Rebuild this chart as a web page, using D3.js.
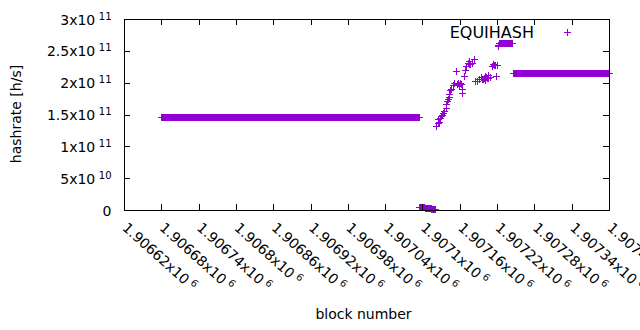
<!DOCTYPE html>
<html>

<head>
	<meta charset="utf-8">
	<title>EQUIHASH hashrate</title>
	<script type="text/javascript" src="https://d3js.org/d3.v7.min.js"></script>
	<style>
		body { margin: 0; background: #fff; }
		text { font-family: "DejaVu Sans", sans-serif; fill: #000; }
	</style>
</head>

<body>
	<div id="chart"></div>

	<script type="text/javascript">
		// tick values and labels (mantissa x10^exponent, gnuplot style)
		var xTickValues = [1906620, 1906680, 1906740, 1906800, 1906860, 1906920, 1906980,
			1907040, 1907100, 1907160, 1907220, 1907280, 1907340, 1907400];
		var xTickLabels = ["1.90662x10", "1.90668x10", "1.90674x10", "1.9068x10", "1.90686x10", "1.90692x10",
			"1.90698x10", "1.90704x10", "1.9071x10", "1.90716x10", "1.90722x10", "1.90728x10", "1.90734x10",
			"1.9074x10"];
		var xTickExp = "6";

		var yTickValues = [0, 5e10, 1e11, 1.5e11, 2e11, 2.5e11, 3e11];
		var yTickLabels = ["0", "5x10", "1x10", "1.5x10", "2x10", "2.5x10", "3x10"];
		var yTickExps = ["", "10", "11", "11", "11", "11", "11"];

		// blocks where the hashrate stays the same: first block, last block, rate
		var runFirst = [1906680, 1907096, 1907105, 1907115, 1907224, 1907246];
		var runLast = [1907095, 1907104, 1907114, 1907121, 1907244, 1907400];
		var runRate = [1.456e11, 3.5e9, 2.0e9, 0.8e9, 2.608e11, 2.149e11];

		// single blocks of the ramp after the drop
		var scatterBlock = [1907123, 1907125, 1907126, 1907127, 1907129, 1907131, 1907132, 1907134,
			1907136, 1907138, 1907139, 1907140, 1907142, 1907143, 1907144, 1907145, 1907147, 1907150,
			1907151, 1907154, 1907156, 1907158, 1907159, 1907161, 1907163, 1907164, 1907165, 1907168,
			1907170, 1907171, 1907174, 1907175, 1907176, 1907178, 1907181, 1907183, 1907185, 1907188,
			1907191, 1907195, 1907197, 1907198, 1907199, 1907201, 1907202, 1907203, 1907204, 1907206,
			1907207, 1907209, 1907213, 1907214, 1907216, 1907217, 1907219, 1907220, 1907222, 1907223];
		var scatterRate = [1.313e11, 1.355e11, 1.418e11, 1.376e11, 1.444e11, 1.473e11, 1.481e11, 1.523e11,
			1.548e11, 1.601e11, 1.653e11, 1.705e11, 1.731e11, 1.770e11, 1.820e11, 1.877e11, 1.899e11, 1.950e11,
			1.993e11, 2.175e11, 1.966e11, 1.993e11, 1.950e11, 1.982e11, 1.966e11, 1.836e11, 1.899e11, 2.096e11,
			2.190e11, 2.253e11, 2.306e11, 2.287e11, 2.331e11, 2.280e11, 2.306e11, 2.358e11, 2.018e11, 2.018e11,
			2.044e11, 2.087e11, 2.044e11, 2.055e11, 2.068e11, 2.096e11, 2.034e11, 2.084e11, 2.071e11, 2.107e11,
			2.071e11, 2.087e11, 2.253e11, 2.279e11, 2.264e11, 2.272e11, 2.096e11, 2.264e11, 2.566e11, 2.577e11];

		var seriesName = "EQUIHASH";
		var color = "#9400d3";

		var width = 640;
		var height = 330;

		var points = [];
		runFirst.forEach(function (b0, i) {
			for (var b = b0; b <= runLast[i]; b++) points.push({ block: b, rate: runRate[i] });
		});
		scatterBlock.forEach(function (b, i) {
			points.push({ block: b, rate: scatterRate[i] });
		});

		var svg = d3.select("#chart").append("svg").attr("width", width).attr("height", height);

		var x = d3.scaleLinear().domain([1906620, 1907400]).range([124, 609]);
		var y = d3.scaleLinear().domain([0, 3e11]).range([210, 19]);

		// plus markers
		function plus(cx, cy) {
			cx = Math.floor(cx) + 0.5;
			cy = Math.floor(cy) + 0.5;
			return "M" + (cx - 3.5) + "," + cy + "H" + (cx + 3.5) + "M" + cx + "," + (cy - 3.5) + "V" + (cy + 3.5);
		}

		svg.append("g").selectAll("path")
			.data(points)
			.join("path")
			.attr("d", function (d) { return plus(x(d.block), y(d.rate)); })
			.attr("stroke", color)
			.attr("stroke-width", 1)
			.attr("fill", "none");

		// axes, ticks pointing inward on all four sides
		var gBottom = svg.append("g").attr("transform", "translate(0,210)")
			.call(d3.axisBottom(x).tickValues(xTickValues).tickSizeInner(-6).tickSizeOuter(0)
				.tickFormat(function (d, i) { return xTickLabels[i]; }));
		svg.append("g").attr("transform", "translate(0,19)")
			.call(d3.axisTop(x).tickValues(xTickValues).tickSizeInner(-6).tickSizeOuter(0).tickFormat(""));
		var gLeft = svg.append("g").attr("transform", "translate(124,0)")
			.call(d3.axisLeft(y).tickValues(yTickValues).tickSizeInner(-6).tickSizeOuter(0)
				.tickFormat(function (d, i) { return yTickLabels[i]; }));
		svg.append("g").attr("transform", "translate(609,0)")
			.call(d3.axisRight(y).tickValues(yTickValues).tickSizeInner(-6).tickSizeOuter(0).tickFormat(""));

		svg.selectAll(".domain, .tick line").attr("stroke", "#000").attr("shape-rendering", "crispEdges");

		gBottom.selectAll(".tick text").each(function (d, i) {
			var t = d3.select(this);
			t.text(null)
				.attr("x", 0).attr("y", 0).attr("dy", null)
				.attr("transform", "translate(-3,19) rotate(42)")
				.attr("text-anchor", "start")
				.attr("font-size", 14)
				.attr("font-family", "DejaVu Sans");
			t.append("tspan").text(xTickLabels[i]);
			t.append("tspan").attr("dx", 3.5).attr("dy", -5).attr("font-size", 10).text(xTickExp);
		});

		gLeft.selectAll(".tick text").each(function (d, i) {
			var t = d3.select(this);
			t.text(null)
				.attr("x", -12.5).attr("dy", 5)
				.attr("text-anchor", "end")
				.attr("font-size", 14)
				.attr("font-family", "DejaVu Sans");
			t.append("tspan").text(yTickLabels[i]);
			if (yTickExps[i]) {
				t.append("tspan").attr("dx", 3.5).attr("dy", -5).attr("font-size", 10).text(yTickExps[i]);
			}
		});

		// axis titles
		svg.append("text")
			.attr("transform", "translate(20.5,114) rotate(-90)")
			.attr("text-anchor", "middle")
			.attr("font-size", 14)
			.text("hashrate [h/s]");
		svg.append("text")
			.attr("x", 363.5).attr("y", 319)
			.attr("text-anchor", "middle")
			.attr("font-size", 14)
			.text("block number");

		// key
		svg.append("text")
			.attr("x", 534).attr("y", 37.5)
			.attr("text-anchor", "end")
			.attr("font-size", 16)
			.text(seriesName);
		svg.append("path")
			.attr("d", plus(567, 32))
			.attr("stroke", color)
			.attr("fill", "none");
	</script>

</body>

</html>
